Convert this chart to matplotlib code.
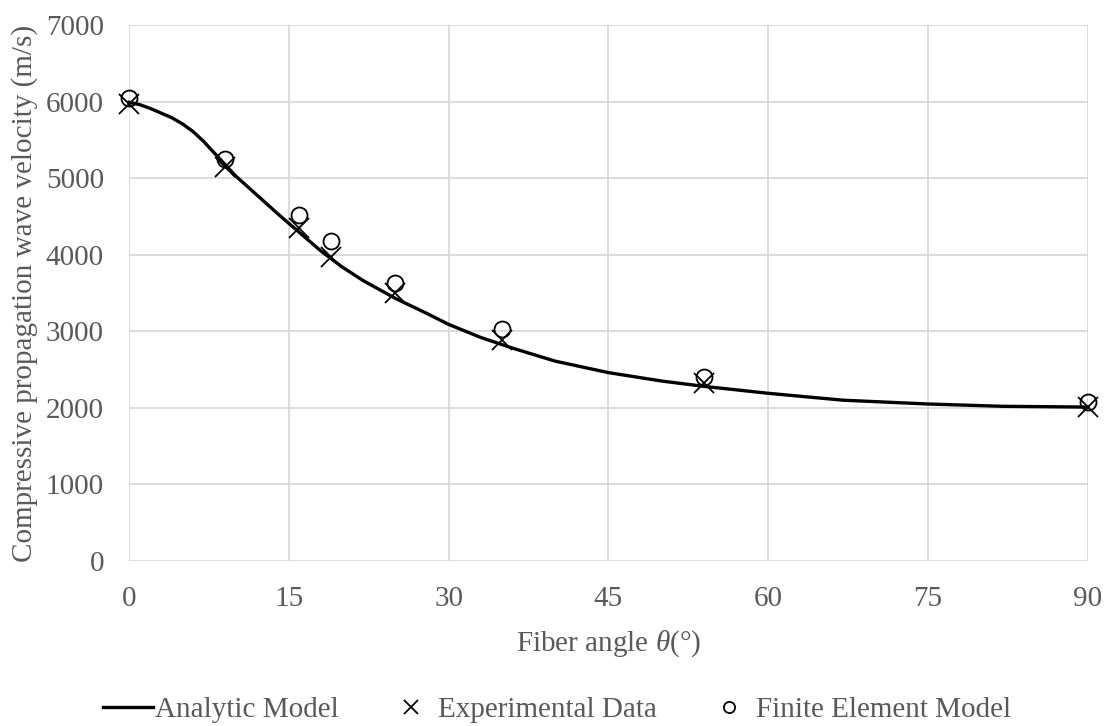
import numpy as np
import matplotlib
matplotlib.use("Agg")
import matplotlib.pyplot as plt

plt.rcParams['font.family'] = ['Liberation Serif', 'DejaVu Serif']
plt.rcParams['mathtext.fontset'] = 'custom'
plt.rcParams['mathtext.it'] = 'Liberation Serif:italic'
plt.rcParams['mathtext.rm'] = 'Liberation Serif'

# analytic model curve
model_angle = [0, 1, 2, 3, 4, 5, 6, 7, 8, 9, 10, 12, 14, 16, 18, 20, 22, 25, 28, 30,
               33, 36, 40, 45, 50, 54, 60, 67, 75, 82, 90]
model_vel = [5990, 5960, 5910, 5850, 5790, 5710, 5610, 5480, 5330, 5180, 5030, 4780,
             4530, 4290, 4050, 3840, 3660, 3430, 3230, 3090, 2920, 2780, 2610, 2460,
             2350, 2280, 2190, 2100, 2050, 2020, 2010]

# measured points
exp_angle = [0, 9, 16, 19, 25, 35, 54, 90]
exp_vel = [5970, 5140, 4345, 3965, 3495, 2885, 2325, 2010]

fe_angle = [0, 9, 16, 19, 25, 35, 54, 90]
fe_vel = [6050, 5245, 4515, 4175, 3630, 3030, 2400, 2080]

xticks = [0, 15, 30, 45, 60, 75, 90]
yticks = [0, 1000, 2000, 3000, 4000, 5000, 6000, 7000]

fs = 21
grey = '#595959'

fig = plt.figure(figsize=(11.1, 7.26), dpi=100)
ax = fig.add_axes([0.1162, 0.2273, 0.8638, 0.7383])

ax.plot(model_angle, model_vel, color='black', lw=2.4, label='Analytic Model',
        zorder=3, clip_on=False)
ax.plot(exp_angle, exp_vel, ls='none', marker='x', ms=14, mew=1.3, color='black',
        label='Experimental Data', zorder=4, clip_on=False)
ax.plot(fe_angle, fe_vel, ls='none', marker='o', ms=11.5, mew=1.3, mfc='none',
        mec='black', label='Finite Element Model', zorder=5, clip_on=False)

ax.set_xlim(0, 90)
ax.set_ylim(0, 7000)
ax.set_xticks(xticks)
ax.set_yticks(yticks)
ax.grid(True, color='#d9d9d9', lw=1.3)
ax.set_axisbelow(True)
for s in ax.spines.values():
    s.set_visible(False)
ax.tick_params(length=0, labelsize=fs, labelcolor=grey)
ax.tick_params(axis='x', pad=18)
ax.tick_params(axis='y', pad=18)

ax.set_xlabel(r'Fiber angle $\theta$(°)', fontsize=fs, color=grey, labelpad=12)
ax.set_ylabel('Compressive propagation wave velocity (m/s)', fontsize=fs,
              color=grey, labelpad=6)

fig.legend(loc='center', bbox_to_anchor=(0.502, 0.022), ncol=3, frameon=False,
           fontsize=fs, handlelength=1.7, handletextpad=0.1, columnspacing=1.6,
           markerscale=0.7, labelcolor=grey)

fig.savefig('out.png', dpi=100)
